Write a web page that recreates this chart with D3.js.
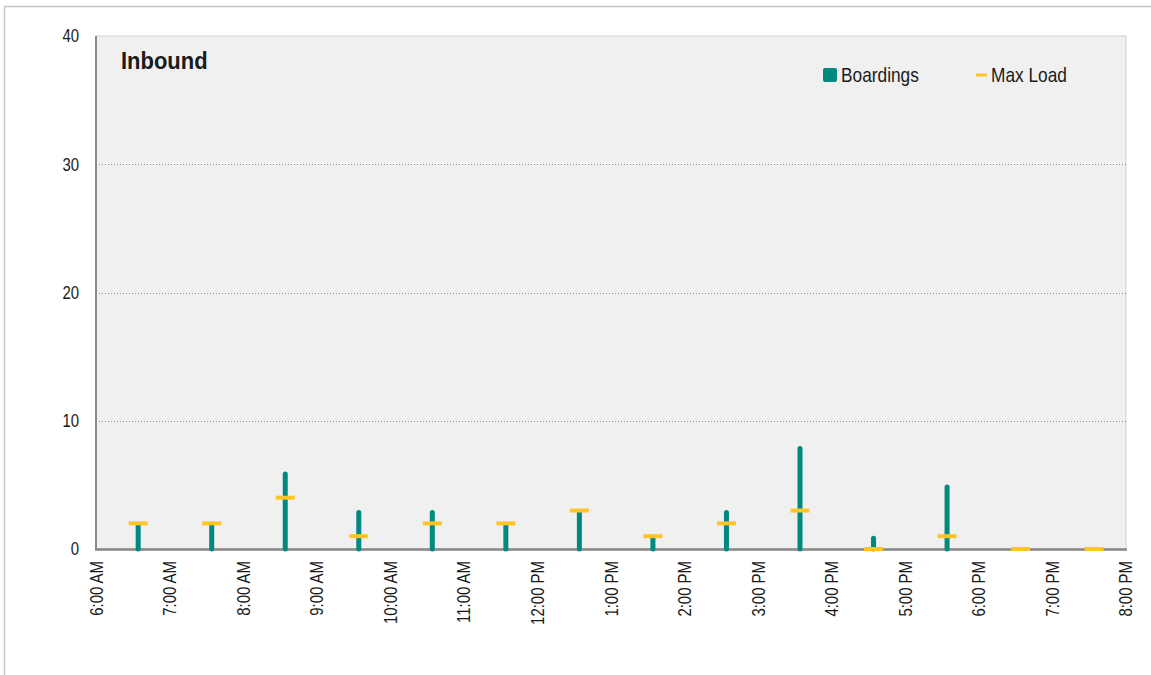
<!DOCTYPE html>
<html>
<head>
<meta charset="utf-8">
<script src="https://cdn.jsdelivr.net/npm/d3@7"></script>
<style>
  html, body { margin: 0; padding: 0; background: #ffffff; }
  svg { display: block; }
  text { font-family: "Liberation Sans", Arial, sans-serif; fill: #1a1a1a; }
</style>
</head>
<body>
<svg id="chart" width="1151" height="675"></svg>
<script>
// ---- data ----
const tickLabels = ["6:00 AM","7:00 AM","8:00 AM","9:00 AM","10:00 AM","11:00 AM","12:00 PM",
                    "1:00 PM","2:00 PM","3:00 PM","4:00 PM","5:00 PM","6:00 PM","7:00 PM","8:00 PM"];
const tripTimes = ["6:34 AM","7:34 AM","8:34 AM","9:34 AM","10:34 AM","11:34 AM","12:34 PM",
                   "1:34 PM","2:34 PM","3:34 PM","4:34 PM","5:34 PM","6:34 PM","7:34 PM"];
const boardings = [2, 2, 6, 3, 3, 2, 3, 1, 3, 8, 1, 5, 0, 0];
const maxLoad   = [2, 2, 4, 1, 2, 2, 3, 1, 2, 3, 0, 1, 0, 0];
const yTicks = [0, 10, 20, 30, 40];
const title = "Inbound";
const seriesNames = ["Boardings", "Max Load"];

// ---- layout ----
const svg = d3.select("#chart");
const plot = { left: 96, right: 1126, top: 36, bottom: 549 };
const teal = "#00897f";
const gold = "#ffc425";
const narrow = 0.83;

const parse = d3.timeParse("%I:%M %p");
const x = d3.scaleTime()
  .domain([parse(tickLabels[0]), parse(tickLabels[tickLabels.length - 1])])
  .range([plot.left + 0.5, plot.right]);
const y = d3.scaleLinear().domain([0, 40]).range([plot.bottom, plot.top]);

// outer frame
svg.append("rect")
  .attr("x", 4.5).attr("y", 6.5).attr("width", 1160).attr("height", 700)
  .attr("fill", "none").attr("stroke", "#c4c4c4").attr("stroke-width", 1.5);

// plot background
svg.append("rect")
  .attr("x", plot.left).attr("y", plot.top)
  .attr("width", plot.right - plot.left).attr("height", plot.bottom - plot.top)
  .attr("fill", "#f0f0f0").attr("stroke", "#cfcfcf").attr("stroke-width", 1);

// gridlines
svg.append("g").selectAll("line")
  .data(yTicks.filter(d => d > 0 && d < 40))
  .join("line")
  .attr("x1", plot.left).attr("x2", plot.right)
  .attr("y1", d => Math.round(y(d)) + 0.5).attr("y2", d => Math.round(y(d)) + 0.5)
  .attr("stroke", "#8c8c8c").attr("stroke-width", 1).attr("stroke-dasharray", "1,2");

// y axis labels
svg.append("g").selectAll("text")
  .data(yTicks)
  .join("text")
  .attr("transform", d => `translate(79,${y(d)}) scale(${narrow},1)`)
  .attr("dy", "0.35em")
  .attr("text-anchor", "end")
  .style("font-size", "18px")
  .text(d => d);

// left axis line
svg.append("line")
  .attr("x1", plot.left).attr("x2", plot.left)
  .attr("y1", plot.top).attr("y2", plot.bottom)
  .attr("stroke", "#8a8a8a").attr("stroke-width", 2);

// bottom axis line
svg.append("line")
  .attr("x1", plot.left - 1).attr("x2", plot.right + 1)
  .attr("y1", plot.bottom + 0.5).attr("y2", plot.bottom + 0.5)
  .attr("stroke", "#878787").attr("stroke-width", 2.5);

// x labels
svg.append("g").selectAll("text")
  .data(tickLabels)
  .join("text")
  .attr("transform", d => `translate(${x(parse(d))},561) rotate(-90) scale(${narrow},1)`)
  .attr("dy", "0.35em")
  .attr("text-anchor", "end")
  .style("font-size", "18px")
  .text(d => d);

// boardings bars
const trips = tripTimes.map((t, i) => ({ t: parse(t), b: boardings[i], m: maxLoad[i] }));
svg.append("g").selectAll("line")
  .data(trips.filter(d => d.b > 0))
  .join("line")
  .attr("x1", d => x(d.t)).attr("x2", d => x(d.t))
  .attr("y1", y(0)).attr("y2", d => y(d.b) + 2)
  .attr("stroke", teal).attr("stroke-width", 5).attr("stroke-linecap", "round");

// max load markers
svg.append("g").selectAll("rect")
  .data(trips)
  .join("rect")
  .attr("x", d => x(d.t) - 9.5).attr("y", d => y(d.m) - 2)
  .attr("width", 19).attr("height", 4)
  .attr("fill", gold);

// title
svg.append("text")
  .attr("transform", "translate(121,69) scale(0.915,1)")
  .style("font-size", "24px").style("font-weight", "bold")
  .text(title);

// legend
svg.append("rect")
  .attr("x", 823).attr("y", 68).attr("width", 14).attr("height", 14)
  .attr("rx", 2).attr("fill", teal);
svg.append("text")
  .attr("transform", "translate(841,82) scale(0.865,1)")
  .style("font-size", "20px")
  .text(seriesNames[0]);
svg.append("rect")
  .attr("x", 976).attr("y", 73.5).attr("width", 11).attr("height", 3)
  .attr("fill", gold);
svg.append("text")
  .attr("transform", "translate(991,82) scale(0.865,1)")
  .style("font-size", "20px")
  .text(seriesNames[1]);
</script>
</body>
</html>
